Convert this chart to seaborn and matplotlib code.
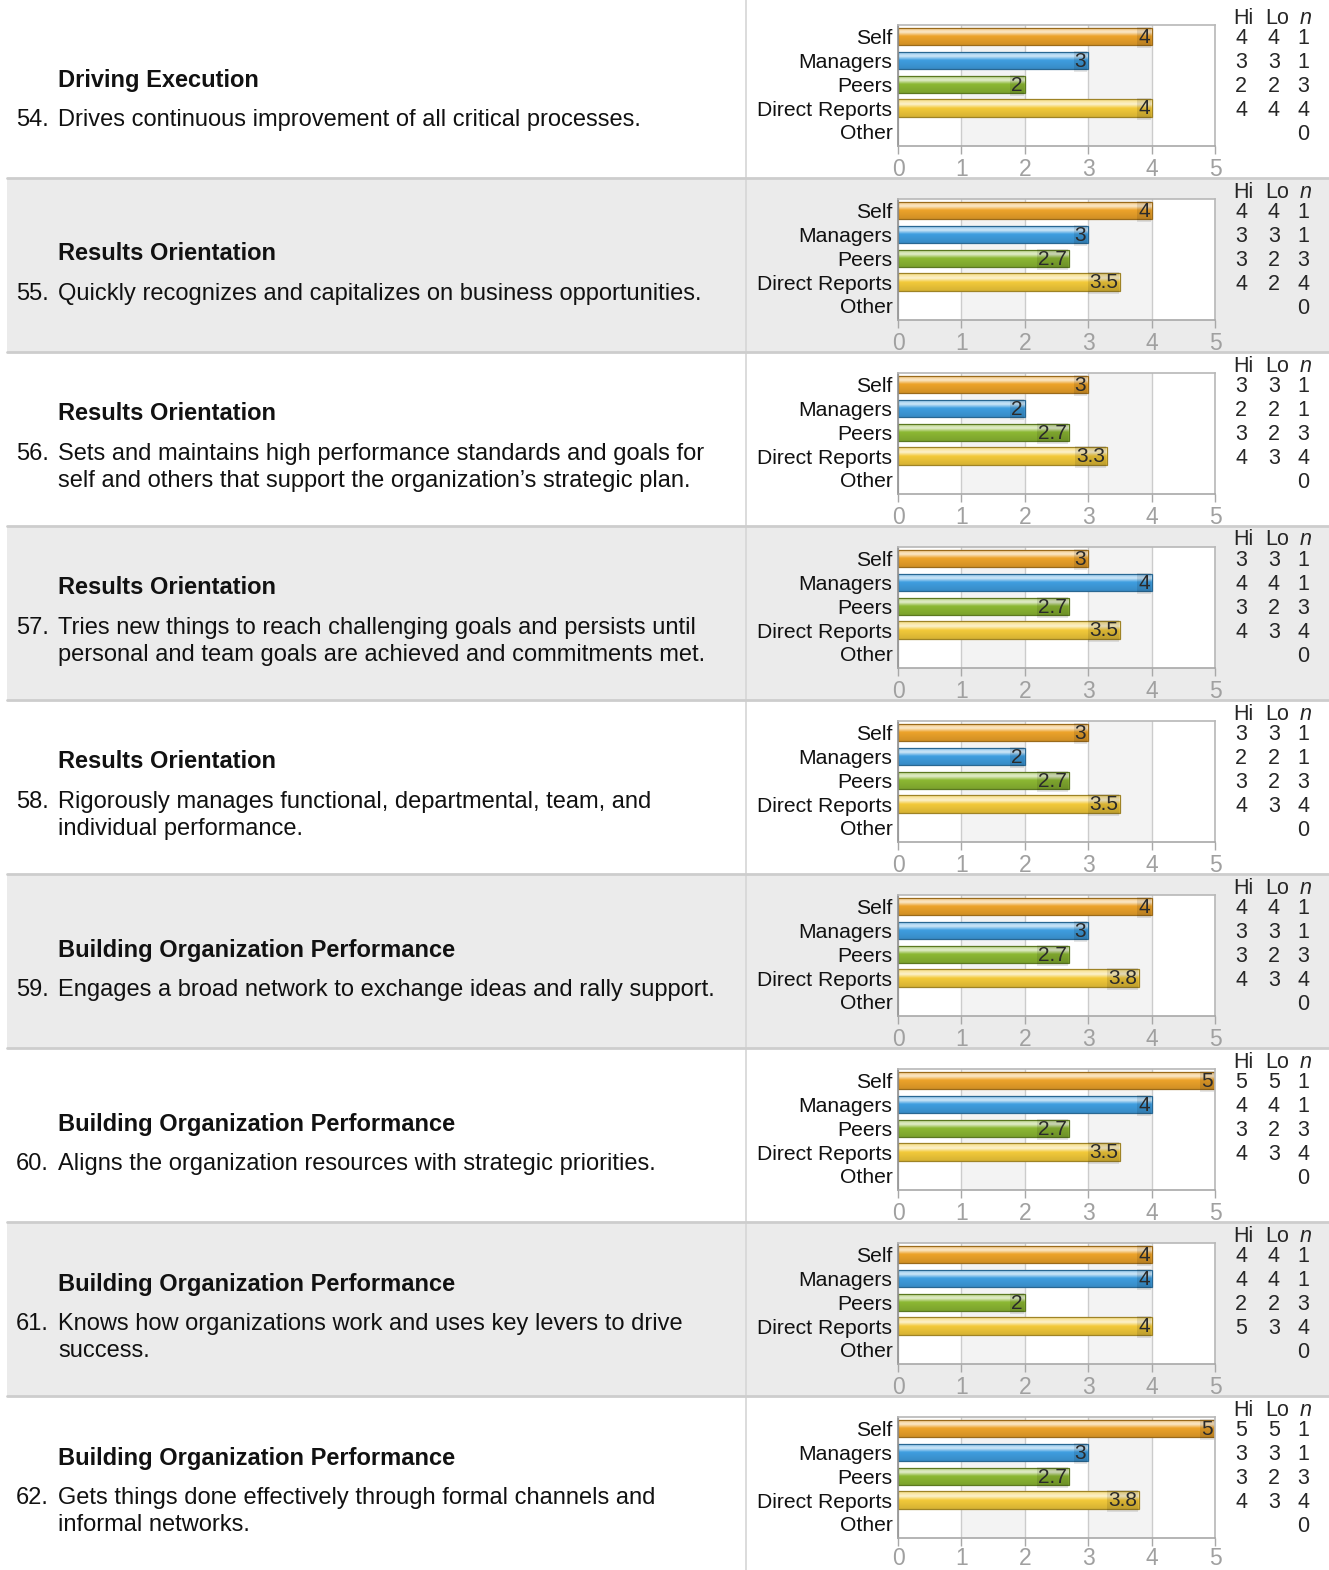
import matplotlib.pyplot as plt
import numpy as np
import pandas as pd
import seaborn as sns
from matplotlib.patches import Rectangle
from matplotlib.lines import Line2D
from matplotlib.colors import LinearSegmentedColormap, to_rgb

# =====================================================
# DATA
# =====================================================

categories = ["Self", "Managers", "Peers", "Direct Reports", "Other"]

competencies = [
    "Driving Execution",
    "Results Orientation",
    "Results Orientation",
    "Results Orientation",
    "Results Orientation",
    "Building Organization Performance",
    "Building Organization Performance",
    "Building Organization Performance",
    "Building Organization Performance",
]

item_numbers = [54, 55, 56, 57, 58, 59, 60, 61, 62]

item_lines = [
    ["Drives continuous improvement of all critical processes."],
    ["Quickly recognizes and capitalizes on business opportunities."],
    ["Sets and maintains high performance standards and goals for",
     "self and others that support the organization\u2019s strategic plan."],
    ["Tries new things to reach challenging goals and persists until",
     "personal and team goals are achieved and commitments met."],
    ["Rigorously manages functional, departmental, team, and",
     "individual performance."],
    ["Engages a broad network to exchange ideas and rally support."],
    ["Aligns the organization resources with strategic priorities."],
    ["Knows how organizations work and uses key levers to drive",
     "success."],
    ["Gets things done effectively through formal channels and",
     "informal networks."],
]

self_scores = [4, 4, 3, 3, 3, 4, 5, 4, 5]
manager_scores = [3, 3, 2, 4, 2, 3, 4, 4, 3]
peer_scores = [2, 2.7, 2.7, 2.7, 2.7, 2.7, 2.7, 2, 2.7]
direct_scores = [4, 3.5, 3.3, 3.5, 3.5, 3.8, 3.5, 4, 3.8]

self_hi = [4, 4, 3, 3, 3, 4, 5, 4, 5]
self_lo = [4, 4, 3, 3, 3, 4, 5, 4, 5]
manager_hi = [3, 3, 2, 4, 2, 3, 4, 4, 3]
manager_lo = [3, 3, 2, 4, 2, 3, 4, 4, 3]
peer_hi = [2, 3, 3, 3, 3, 3, 3, 2, 3]
peer_lo = [2, 2, 2, 2, 2, 2, 2, 2, 2]
direct_hi = [4, 4, 4, 4, 4, 4, 4, 5, 4]
direct_lo = [4, 2, 3, 3, 3, 3, 3, 3, 3]
n_counts = [1, 1, 3, 4, 0]

palette = {
    "Self": "#eda32a",
    "Managers": "#3f9ee0",
    "Peers": "#8cb833",
    "Direct Reports": "#f3ca3a",
    "Other": "#cccccc",
}

# =====================================================
# FIGURE
# =====================================================

W, H = 1329, 1570
ROW_H = 174
TOP = 4

sns.set_style("white")
plt.rcParams['font.family'] = ['Liberation Sans', 'DejaVu Sans']

fig = plt.figure(figsize=(W / 100, H / 100), dpi=100)


def fx(px):
    return px / W


def fy(py):
    return 1 - py / H


def shade(c, f):
    r, g, b = to_rgb(c)
    if f >= 0:
        return (r + (1 - r) * f, g + (1 - g) * f, b + (1 - b) * f)
    return (r * (1 + f), g * (1 + f), b * (1 + f))


# vertical divider
fig.lines.append(Line2D([fx(746), fx(746)], [0, 1], transform=fig.transFigure,
                        color="#d6d6d6", lw=1.2, zorder=-1))

for i in range(9):
    T = TOP + ROW_H * i

    # row background + separator
    if i % 2 == 1:
        fig.patches.append(Rectangle((fx(7), fy(T + ROW_H)), 1 - fx(7), ROW_H / H,
                                     transform=fig.transFigure, facecolor="#ebebeb",
                                     edgecolor="none", zorder=-2))
    if i > 0:
        fig.lines.append(Line2D([fx(7), 1], [fy(T), fy(T)], transform=fig.transFigure,
                                color="#cdcdcd", lw=2, zorder=-1))

    # left text
    lines = item_lines[i]
    if len(lines) == 1:
        ty, ly = T + 76, [T + 116]
    else:
        ty, ly = T + 62, [T + 102, T + 129]
    fig.text(fx(58), fy(ty), competencies[i], fontsize=17, fontweight="bold",
             va="center", ha="left", color="#111111")
    fig.text(fx(16), fy(ly[0]), f"{item_numbers[i]}.", fontsize=17,
             va="center", ha="left", color="#111111")
    for line, yy in zip(lines, ly):
        fig.text(fx(58), fy(yy), line, fontsize=17, va="center", ha="left",
                 color="#111111")

    # bar chart
    ax = fig.add_axes([fx(898), fy(T + 142), (1215 - 898) / W, 121 / H])
    df = pd.DataFrame({
        "group": categories[:4],
        "score": [self_scores[i], manager_scores[i], peer_scores[i], direct_scores[i]],
    })
    ax.set_facecolor("white")
    for k in (1, 3):
        ax.axvspan(k, k + 1, color="#f3f3f3", zorder=0, lw=0)
    before = set(ax.patches)
    sns.barplot(data=df, x="score", y="group", hue="group", order=categories,
                hue_order=categories, palette=palette, legend=False, ax=ax,
                width=0.72, orient="h", saturation=1)
    ax.set_xlim(0, 5)
    ax.set_ylim(4.6, -0.5)

    # glossy gradient fill for each bar
    for p in [q for q in ax.patches if q not in before]:
        if p.get_width() == 0 or np.isnan(p.get_width()):
            continue
        base = p.get_facecolor()[:3]
        cmap = LinearSegmentedColormap.from_list(
            "g", [(0, shade(base, 0.35)), (0.28, shade(base, 0.75)),
                  (0.5, base), (1, shade(base, -0.12))])
        x0, y0, w, h = p.get_x(), p.get_y(), p.get_width(), p.get_height()
        grad = np.linspace(0, 1, 64).reshape(-1, 1)
        im = ax.imshow(grad, extent=[x0, x0 + w, y0 + h, y0], aspect="auto",
                       cmap=cmap, zorder=1.5, interpolation="bilinear")
        im.set_clip_path(p)
        p.set_facecolor("none")
        p.set_edgecolor(shade(base, -0.35))
        p.set_linewidth(0.9)
        p.set_zorder(2)

    ax.set_xlim(0, 5)
    ax.set_ylim(4.6, -0.5)

    for j, v in enumerate(df["score"]):
        ax.text(v - 0.03, j + 0.04, f"{v:g}", ha="right", va="center", fontsize=15,
                color="#2a2a2a", zorder=5,
                bbox=dict(boxstyle="square,pad=0.05", fc=(0, 0, 0, 0.10), ec="none"))

    ax.set_xticks(range(6))
    ax.grid(axis="x", color="#cccccc", lw=1)
    ax.grid(axis="y", visible=False)
    ax.set_axisbelow(True)
    ax.set_xlabel("")
    ax.set_ylabel("")
    ax.tick_params(axis="x", bottom=True, length=6, width=1, color="#a8a8a8",
                   labelsize=16.5, labelcolor="#a0a0a0", pad=3 if i < 8 else 0.5)
    ax.tick_params(axis="y", left=False, length=0, labelsize=15.2, labelcolor="#111111",
                   pad=4)
    for s in ["top", "right"]:
        ax.spines[s].set_color("#b8b8b8")
    ax.spines["left"].set_color("#909090")
    ax.spines["bottom"].set_color("#a8a8a8")
    for s in ax.spines.values():
        s.set_linewidth(1.2)

    # Hi / Lo / n table
    fig.text(fx(1243), fy(T + 14), "Hi", fontsize=15.5, ha="center", va="center")
    fig.text(fx(1277), fy(T + 14), "Lo", fontsize=15.5, ha="center", va="center")
    fig.text(fx(1306), fy(T + 14), "n", fontsize=15.5, ha="center", va="center",
             style="italic")
    his = [self_hi[i], manager_hi[i], peer_hi[i], direct_hi[i]]
    los = [self_lo[i], manager_lo[i], peer_lo[i], direct_lo[i]]
    for j in range(5):
        yy = fy(T + 35 + 23.8 * j)
        if j < 4:
            fig.text(fx(1241), yy, str(his[j]), fontsize=15.5, ha="center", va="center")
            fig.text(fx(1274), yy, str(los[j]), fontsize=15.5, ha="center", va="center")
        fig.text(fx(1303), yy, str(n_counts[j]), fontsize=15.5, ha="center", va="center")

plt.savefig("out.png", dpi=100)
plt.close()
